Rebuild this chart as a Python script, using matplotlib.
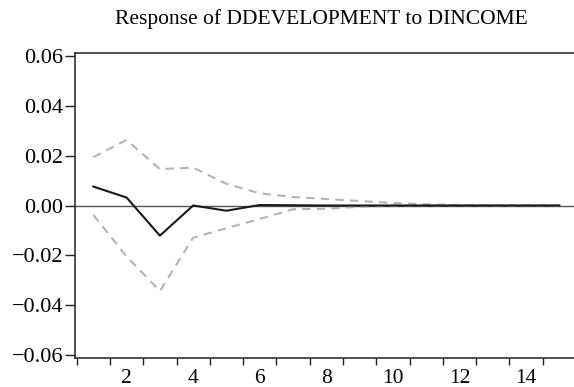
"""Impulse response of DDEVELOPMENT to a DINCOME shock, with +/- 2 s.e. bands."""
import numpy as np
import matplotlib
matplotlib.use("Agg")
import matplotlib.pyplot as plt
from matplotlib.ticker import FixedLocator, FuncFormatter

periods = np.arange(1, 16)
response = [0.0076, 0.0032, -0.0121, 0.0000, -0.0021, 0.0002, 0.0001, 0.0000,
            0.0000, 0.0000, 0.0000, 0.0000, 0.0000, 0.0000, 0.0000]
upper = [0.0194, 0.0263, 0.0146, 0.0152, 0.0087, 0.0049, 0.0034, 0.0026,
         0.0018, 0.0010, 0.0005, 0.0002, 0.0001, 0.0001, 0.0001]
lower = [-0.0038, -0.0205, -0.0343, -0.0129, -0.0091, -0.0054, -0.0015, -0.0013,
         -0.0005, -0.0001, 0.0000, 0.0000, 0.0000, 0.0000, 0.0000]

title = "Response of DDEVELOPMENT to DINCOME"
x_labels = [2, 4, 6, 8, 10, 12, 14]
y_ticks = [-0.06, -0.04, -0.02, 0.00, 0.02, 0.04, 0.06]

plt.rcParams["font.family"] = ["Liberation Serif", "DejaVu Serif"]

fig = plt.figure(figsize=(5.74, 3.87), dpi=100)
ax = fig.add_axes([75 / 574, 1 - 358 / 387, 501 / 574, 305 / 387])

ax.axhline(0, color="#555555", lw=1.0, zorder=1)
ax.plot(periods, upper, color="#b4b4b4", lw=1.5, ls=(0, (4, 3)), zorder=2)
ax.plot(periods, lower, color="#b4b4b4", lw=1.5, ls=(0, (4, 3)), zorder=2)
ax.plot(periods, response, color="#1a1a1a", lw=1.5, zorder=3)

ax.set_xlim(0.45, 15.5)
ax.set_ylim(-0.0612, 0.0612)

ax.xaxis.set_major_locator(FixedLocator(x_labels))
ax.xaxis.set_minor_locator(FixedLocator(np.arange(0.5, 15.0, 1.0)))
ax.tick_params(axis="x", which="major", length=0, pad=8, labelsize=15.5)
ax.tick_params(axis="x", which="minor", length=5, width=1.0, color="#222222")

ax.yaxis.set_major_locator(FixedLocator(y_ticks))
ax.yaxis.set_major_formatter(FuncFormatter(lambda v, _: f"{v:.2f}".replace("-", "\u2212")))
ax.tick_params(axis="y", length=7, width=1.0, pad=1.5, labelsize=16, color="#222222")

for side in ("left", "top", "bottom"):
    ax.spines[side].set_linewidth(1.1)
    ax.spines[side].set_color("#222222")
ax.spines["right"].set_visible(False)

fig.text(0.56, 1 - 19 / 387, title, ha="center", va="center", fontsize=15.5)

fig.savefig("out.png", dpi=100)
